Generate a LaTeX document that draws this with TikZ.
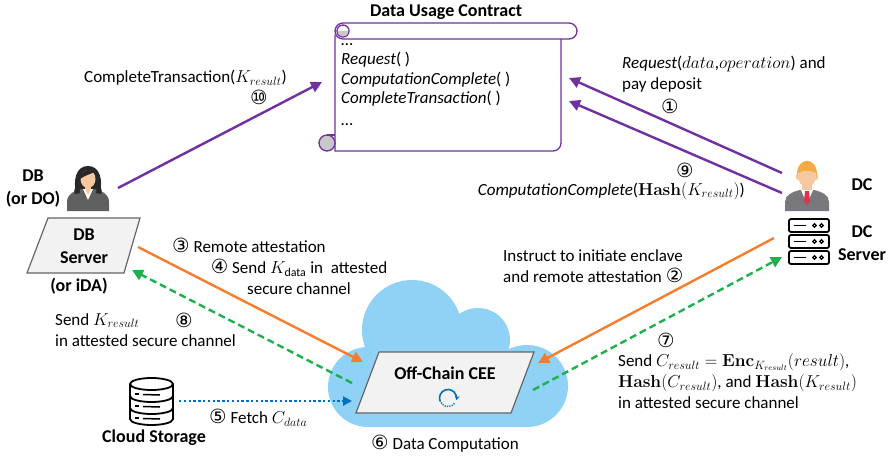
\documentclass[tikz,border=0pt]{standalone}
\usepackage{amsmath}
\usepackage[no-math]{fontspec}
\setmainfont{Carlito}
\newfontfamily\circfont[Scale=1.15]{DejaVu Sans}
\usetikzlibrary{arrows.meta}

\definecolor{cpurple}{RGB}{112,48,160}
\definecolor{corange}{RGB}{245,125,45}
\definecolor{cgreen}{RGB}{30,176,75}
\definecolor{cblue}{RGB}{0,112,192}
\definecolor{cloudblue}{RGB}{143,210,245}
\definecolor{boxgray}{RGB}{242,242,242}
\definecolor{curlgray}{RGB}{200,200,200}
\definecolor{skin}{RGB}{246,200,160}
\definecolor{hairdark}{RGB}{40,40,40}
\definecolor{hairorange}{RGB}{245,170,70}
\definecolor{suitgray}{RGB}{95,95,95}
\definecolor{suitgray2}{RGB}{120,120,125}
\definecolor{tiered}{RGB}{225,50,75}

\newcommand{\cnum}[1]{{\circfont #1}}

\begin{document}
\begin{tikzpicture}[x=1pt,y=-1pt,
    font=\fontsize{17}{21}\selectfont,
    lbl/.style={inner sep=0pt, align=left},
    bold/.style={inner sep=0pt, align=center, font=\fontsize{18}{23}\selectfont\bfseries},
    purplearrow/.style={draw=cpurple, line width=2.4pt, -{Triangle[length=11pt,width=11pt]}},
    orangearrow/.style={draw=corange, line width=2.4pt, -{Triangle[length=11pt,width=11pt]}},
    greenarrow/.style={draw=cgreen, line width=2.4pt, dash pattern=on 7pt off 4pt, -{Triangle[length=11pt,width=11pt]}},
    bluearrow/.style={draw=cblue, line width=2.2pt, dash pattern=on 2.4pt off 2.4pt, -{Triangle[length=9pt,width=9pt]}},
    platform/.style={draw=gray!80!black, fill=boxgray, line width=1.2pt},
    scrollline/.style={draw=cpurple, line width=1.3pt},
    icon/.style={draw=black, line width=1.8pt},
  ]
  \useasboundingbox (0,0) rectangle (893,457);

  % cloud behind the enclave
  \begin{scope}[fill=cloudblue]
    \fill (368,380) rectangle (527,427);
    \fill (412,330) circle (50pt);
    \fill (478,340) circle (32pt);
    \fill (368,387) circle (40pt);
    \fill (527,386) circle (41pt);
  \end{scope}

  % contract scroll
  \node[bold] (title) at (446,12) {Data Usage Contract};
  \draw[scrollline, fill=white] (335,35) -- (335,151) -- (553,151)
    arc[start angle=270, end angle=360, radius=8pt] -- (561,39);
  \draw[scrollline, fill=white, rounded corners=8pt] (335,23) rectangle (577,39);
  \draw[scrollline, fill=white] (343,31) circle (6pt);
  \fill[curlgray] (337.5,31) arc[start angle=180, end angle=360, radius=5.5pt] -- cycle;
  \draw[scrollline, fill=curlgray] (327,143) circle (8pt);
  \draw[scrollline] (327,135) -- (335,135);
  \node[lbl, anchor=north west, font=\fontsize{17}{19.5}\selectfont] (contract) at (341,43)
    {\dots\\ \textit{Request}( )\\ \textit{ComputationComplete}( )\\ \textit{CompleteTransaction}( )\\[2pt] \dots};

  % data buyer
  \begin{scope}[shift={(88,190)}]
    \fill[hairdark] (-12,3) .. controls (-15,-10) and (-12,-24) .. (0,-24)
      .. controls (12,-24) and (15,-10) .. (12,3) -- cycle;
    \fill[skin] (-3,-6) rectangle (3,0);
    \fill[suitgray] (-21,21) -- (-21,12) .. controls (-21,4) and (-14,1) .. (-6,-1) -- (6,-1)
      .. controls (14,1) and (21,4) .. (21,12) -- (21,21) -- cycle;
    \fill[white] (-5,-1) -- (5,-1) -- (0,10) -- cycle;
    \fill[skin] (-3,-1) -- (3,-1) -- (0,5) -- cycle;
    \fill[hairdark] (-13,4) .. controls (-15,0) and (-13,-3) .. (-9,-4) -- (-8,3) -- cycle;
    \fill[hairdark] (13,4) .. controls (15,0) and (13,-3) .. (9,-4) -- (8,3) -- cycle;
    \fill[skin] (0,-11) ellipse (7.5pt and 9pt);
    \fill[hairdark] (-8,-11) .. controls (-8,-20) and (0,-22) .. (7,-18)
      .. controls (2,-16) and (-4,-14) .. (-8,-11);
  \end{scope}
  \node[bold] (db) at (33,189) {DB\\(or DO)};

  % data consumer
  \begin{scope}[shift={(807,190)}]
    \fill[skin] (-5,-6) rectangle (5,1);
    \fill[suitgray2] (-22,21) -- (-22,12) .. controls (-22,5) and (-15,2) .. (-7,0) -- (7,0)
      .. controls (15,2) and (22,5) .. (22,12) -- (22,21) -- cycle;
    \fill[white] (-6,0) -- (6,0) -- (0,14) -- cycle;
    \fill[tiered] (-2,1) -- (2,1) -- (3,11) -- (0,15) -- (-3,11) -- cycle;
    \fill[skin] (-9,-13) ellipse (2.2pt and 3pt);
    \fill[skin] (9,-13) ellipse (2.2pt and 3pt);
    \fill[skin] (0,-14) ellipse (9pt and 11pt);
    \fill[hairorange] (-10,-12) .. controls (-12,-35) and (12,-35) .. (10,-12)
      -- (9,-17) .. controls (4,-20) and (-4,-20) .. (-9,-17) -- cycle;
  \end{scope}
  \node[bold] (dc) at (862,185) {DC};

  % DC server rack
  \foreach \y in {219,235,251} {
    \draw[icon, rounded corners=2pt] (789,\y) rectangle (829,\y+13);
    \draw[icon] (794,\y+6.5) -- (806,\y+6.5);
    \draw[line width=1.3pt] (814.5,\y+6.5) circle (1.7pt);
    \draw[line width=1.3pt] (821.5,\y+6.5) circle (1.7pt);
  }
  \node[bold] (dcserver) at (862,243) {DC\\Server};

  % DB server
  \draw[platform] (48,218) -- (140,218) -- (124,273) -- (27,273) -- cycle;
  \node[bold] (dbserver) at (84,246) {DB\\Server};
  \node[bold] (ida) at (79,286) {(or iDA)};

  % cloud storage
  \draw[icon, fill=white] (130,384) -- (130,419)
    arc[start angle=180, end angle=360, x radius=21.5pt, y radius=6pt] -- (173,384);
  \draw[icon] (151.5,384) ellipse [x radius=21.5pt, y radius=6pt];
  \foreach \y in {396,408}
    \draw[icon] (130,\y) arc[start angle=180, end angle=360, x radius=21.5pt, y radius=6pt];
  \foreach \y in {394,406,418} {
    \draw[line width=1.5pt] (135,\y) -- (139,\y);
    \draw[line width=1.5pt] (143,\y+0.5) -- (160,\y+1);
  }
  \node[bold] (storage) at (154,438) {Cloud Storage};

  % off-chain enclave
  \draw[platform] (379,352) -- (534,352) -- (511,413) -- (356,413) -- cycle;
  \node[bold] (cee) at (445,373) {Off-Chain CEE};
  \coordinate (spin) at (448,398);
  \draw[cblue, line width=1.6pt, -{Stealth[length=4.5pt,width=5pt]}]
    ([shift={(200:8.5pt)}]spin) arc[start angle=200, end angle=-15, radius=8.5pt];
  \draw[cblue, line width=1.4pt, dash pattern=on 1.2pt off 1.2pt]
    ([shift={(-40:8.5pt)}]spin) arc[start angle=-40, end angle=-160, radius=8.5pt];

  % connector ends
  \coordinate (dbuser-out) at (118,188);
  \coordinate (contract-w) at (322,82);
  \coordinate (dcuser-a) at (782,173);
  \coordinate (contract-e1) at (569,78);
  \coordinate (dcuser-b) at (782,193);
  \coordinate (contract-e2) at (569,101);
  \coordinate (dbserver-e) at (138,247);
  \coordinate (cee-nw) at (363,362);
  \coordinate (cee-w) at (352,383);
  \coordinate (dbserver-se) at (132,270);
  \coordinate (dcserver-w) at (774,238);
  \coordinate (cee-ne) at (538,363);
  \coordinate (cee-e) at (533,390);
  \coordinate (dcserver-sw) at (782,257);
  \coordinate (storage-e) at (179,401);
  \coordinate (cee-sw) at (352,401);

  \draw[purplearrow] (dbuser-out) -- (contract-w);
  \draw[purplearrow] (dcuser-a) -- (contract-e1);
  \draw[purplearrow] (dcuser-b) -- (contract-e2);
  \draw[orangearrow] (dbserver-e) -- (cee-nw);
  \draw[greenarrow] (cee-w) -- (dbserver-se);
  \draw[orangearrow] (dcserver-w) -- (cee-ne);
  \draw[greenarrow] (cee-e) -- (dcserver-sw);
  \draw[bluearrow] (storage-e) -- (cee-sw);

  % step labels
  \node[lbl, anchor=west] (l10) at (84,78) {CompleteTransaction($K_{result}$)};
  \node[lbl] (n10) at (259,97) {\cnum{⑩}};
  \node[lbl, anchor=west] (l1) at (622,74) {\textit{Request}($data$,$operation$) and\\pay deposit};
  \node[lbl] (n1) at (670,106) {\cnum{①}};
  \node[lbl] (n9) at (685,170) {\cnum{⑨}};
  \node[lbl, anchor=east] (l9) at (745,191) {\textit{ComputationComplete}($\mathbf{Hash}(K_{result})$)};
  \node[lbl, anchor=west] (l3) at (172,245) {\cnum{③} Remote attestation};
  \node[lbl, align=center] (l4) at (299,277) {\cnum{④} Send $K_{\text{data}}$ in\ \ attested\\secure channel};
  \node[lbl, anchor=west] (l8) at (55,330) {Send $K_{result}$\\in attested secure channel};
  \node[lbl] (n8) at (184,320) {\cnum{⑧}};
  \node[lbl, anchor=west] (l2) at (503,266) {Instruct to initiate enclave\\and remote attestation \cnum{②}};
  \node[lbl] (n7) at (666,340) {\cnum{⑦}};
  \node[lbl, anchor=west] (l7) at (618,381) {Send $C_{result}=\mathbf{Enc}_{K_{result}}(result)$,\\$\mathbf{Hash}(C_{result})$, and $\mathbf{Hash}(K_{result})$\\in attested secure channel};
  \node[lbl, anchor=west] (l5) at (209,418) {\cnum{⑤} Fetch $C_{data}$};
  \node[lbl] (l6) at (445,444) {\cnum{⑥} Data Computation};
\end{tikzpicture}
\end{document}
